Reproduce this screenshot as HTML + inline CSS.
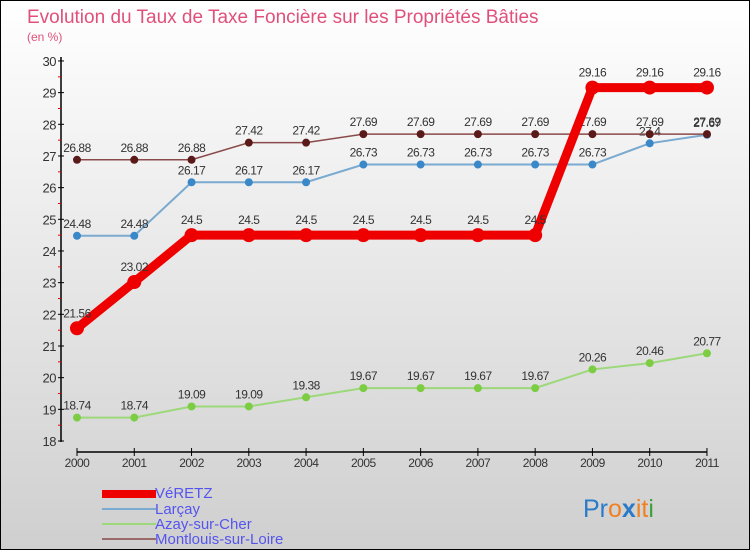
<!DOCTYPE html>
<html><head><meta charset="utf-8"><style>
body{margin:0}
#c{width:750px;height:550px;position:relative;overflow:hidden;box-sizing:border-box;border:1px solid #000;background:linear-gradient(#fff,#cfcfcf);font-family:"Liberation Sans",sans-serif}
</style></head><body>
<div id="c">
<svg width="750" height="550" style="position:absolute;left:0;top:0" id="svg">
<text x="26" y="22" font-size="19" fill="#e0507a">Evolution du Taux de Taxe Foncière sur les Propriétés Bâties</text>
<text x="26" y="40" font-size="12" fill="#e0507a">(en %)</text>
<g id="axes"></g><g id="series"></g>
<g>
<rect x="101" y="489" width="54" height="8" fill="#e00"/>
<text x="154" y="497" font-size="15" fill="#55e">VéRETZ</text>
<line x1="101" y1="508" x2="155" y2="508" stroke="#7aaad0" stroke-width="2"/>
<text x="154" y="513" font-size="15" fill="#55e">Larçay</text>
<line x1="101" y1="523" x2="155" y2="523" stroke="#9dd87a" stroke-width="2"/>
<text x="154" y="528" font-size="15" fill="#55e">Azay-sur-Cher</text>
<line x1="101" y1="538" x2="155" y2="538" stroke="#9a6a6a" stroke-width="2"/>
<text x="154" y="543" font-size="15" fill="#55e">Montlouis-sur-Loire</text>
</g>
<text x="582" y="516" font-size="25"><tspan fill="#2a7ac8">Pr</tspan><tspan fill="#f08020">o</tspan><tspan fill="#2a7ac8" font-weight="bold">x</tspan><tspan fill="#f08020">it</tspan><tspan fill="#40a040">i</tspan></text>
</svg>
</div>
<script>
const years=["2000","2001","2002","2003","2004","2005","2006","2007","2008","2009","2010","2011"];
const veretz=[21.56,23.02,24.5,24.5,24.5,24.5,24.5,24.5,24.5,29.16,29.16,29.16];
const larcay=[24.48,24.48,26.17,26.17,26.17,26.73,26.73,26.73,26.73,26.73,27.4,27.67];
const azay=[18.74,18.74,19.09,19.09,19.38,19.67,19.67,19.67,19.67,20.26,20.46,20.77];
const montlouis=[26.88,26.88,26.88,27.42,27.42,27.69,27.69,27.69,27.69,27.69,27.69,27.69];
const yTicks=[18,19,20,21,22,23,24,25,26,27,28,29,30];
const NS="http://www.w3.org/2000/svg";
const xS=i=>76+i*57.27, yS=v=>440-(v-18)*31.67;
function mk(t,a,p){const e=document.createElementNS(NS,t);for(const k in a)e.setAttribute(k,a[k]);p.appendChild(e);return e;}
const ax=document.getElementById('axes');
let l=mk('line',{x1:60,y1:56,x2:60,y2:441,stroke:'#000','stroke-width':1.5},ax);


l=mk('line',{x1:76,y1:451,x2:706,y2:451,stroke:'#000','stroke-width':1.5},ax);


yTicks.forEach((v,i)=>{const y=yS(v);
 mk('line',{x1:57,y1:y,x2:63,y2:y,stroke:'#000'},ax);
 if(i<yTicks.length-1)mk('line',{x1:57,y1:y-15.8,x2:60,y2:y-15.8,stroke:'#e00'},ax);
 const t=mk('text',{x:55,y:y+5,'text-anchor':'end','font-size':13,fill:'#333','letter-spacing':'-0.5'},ax);t.textContent=v;
 
 });
years.forEach((yr,i)=>{const x=xS(i);mk('line',{x1:x,y1:447,x2:x,y2:455,stroke:'#000'},ax);
 const t=mk('text',{x:x,y:466,'text-anchor':'middle','font-size':12,fill:'#333','letter-spacing':'-0.5'},ax);t.textContent=yr;
 
 });
const sg=document.getElementById('series');
function draw(vals,color,w,r,name,dot){const g=mk('g',{},sg);
 
 
 mk('polyline',{points:vals.map((v,i)=>xS(i)+','+yS(v)).join(' '),fill:'none',stroke:color,'stroke-width':w},g);
 vals.forEach((v,i)=>{const c=mk('circle',{cx:xS(i),cy:yS(v),r:r,fill:dot},g);
  
  
  const t=mk('text',{x:xS(i),y:yS(v)-(r+4),'text-anchor':'middle','font-size':12,fill:'#333','letter-spacing':'-0.5'},g);t.textContent=v;
  
  });}
draw(azay,'#9dd87a',2,4,'azay','#7ccc44');
draw(larcay,'#7aaad0',2,4,'larcay','#3a88c8');
draw(montlouis,'#8a4a4a',1.5,4,'montlouis','#5a1a1a');
draw(veretz,'#ee0000',9,7,'veretz','#ee0000');
</script>
</body></html>
